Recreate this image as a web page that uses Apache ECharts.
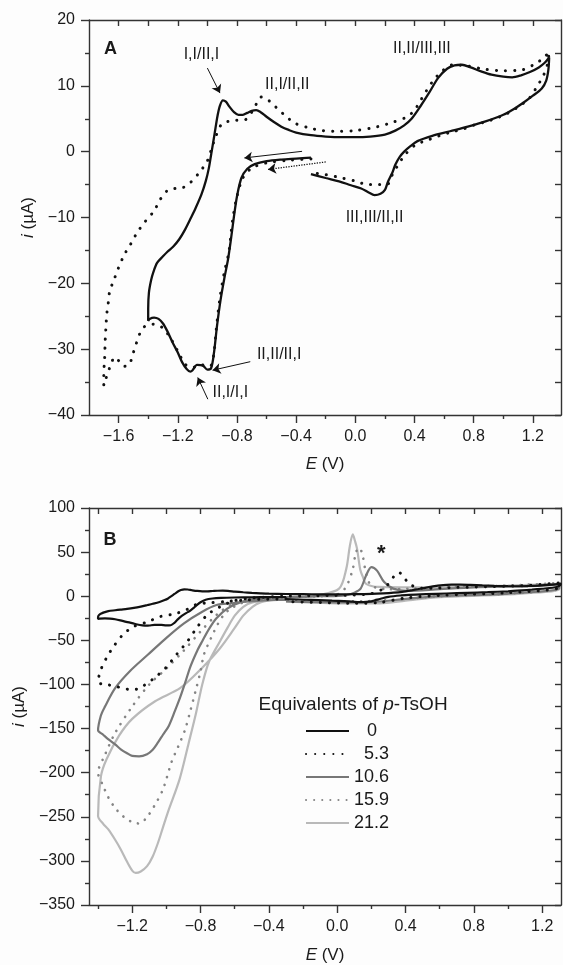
<!DOCTYPE html>
<html><head><meta charset="utf-8">
<script src="https://cdn.jsdelivr.net/npm/echarts@6/dist/echarts.min.js"></script>
<style>html,body{margin:0;padding:0;background:#fdfdfd}#c{width:563px;height:965px}</style>
</head><body><div id="c"></div>
<script>
// ---------- Panel A : 0 equivalents (solid) ----------
const aSolidE = [-0.30,-0.40,-0.50,-0.60,-0.68,-0.73,-0.77,-0.80,-0.82,-0.84,-0.86,-0.885,-0.91,-0.935,-0.955,-0.975,-1.00,-1.03,-1.07,-1.10,-1.115,-1.14,-1.17,-1.20,-1.235,-1.27,-1.30,-1.33,-1.36,-1.39,-1.40,
 -1.40,-1.395,-1.38,-1.365,-1.34,-1.30,-1.27,-1.23,-1.19,-1.15,-1.11,-1.08,-1.04,-1.01,-0.99,-0.975,-0.96,-0.945,-0.93,-0.915,-0.895,-0.875,-0.85,-0.82,-0.79,-0.76,-0.73,-0.70,-0.67,-0.64,-0.60,-0.55,-0.50,-0.45,-0.40,-0.30,-0.20,-0.10,0.00,0.10,0.20,0.27,0.33,0.38,0.44,0.50,0.56,0.62,0.67,0.72,0.78,0.85,0.92,1.00,1.06,1.12,1.18,1.24,1.28,1.31,
 1.305,1.29,1.26,1.20,1.14,1.08,1.00,0.88,0.76,0.64,0.52,0.42,0.37,0.33,0.30,0.27,0.25,0.22,0.20,0.17,0.13,0.09,0.04,-0.03,-0.11,-0.20,-0.30];
const aSolidI = [-0.9,-1.05,-1.2,-1.45,-1.9,-2.6,-4.0,-6.8,-9.8,-13.2,-16.3,-19.2,-22.4,-26.5,-30.5,-32.9,-33.1,-32.5,-32.4,-33.2,-33.4,-33.0,-32.0,-30.5,-29.0,-27.3,-26.1,-25.4,-25.2,-25.4,-25.7,
 -23.9,-21.4,-19.5,-18.3,-16.9,-15.9,-15.2,-14.4,-13.3,-11.8,-10.0,-8.6,-6.5,-4.4,-2.5,-0.5,1.5,3.6,5.6,7.0,7.8,7.6,6.8,6.0,5.6,5.6,5.9,6.2,6.3,6.0,5.3,4.5,3.8,3.3,2.9,2.5,2.3,2.2,2.2,2.3,2.6,3.2,4.0,5.0,6.9,9.0,11.2,12.6,13.1,13.2,12.8,12.2,11.7,11.4,11.3,11.6,12.1,12.8,13.5,14.3,
 12.5,10.8,9.6,8.5,7.5,6.6,5.6,4.6,3.8,3.1,2.4,1.6,0.8,0.0,-0.8,-2.0,-3.2,-4.6,-5.8,-6.4,-6.6,-6.2,-5.6,-5.1,-4.5,-4.0,-3.4];
// ---------- Panel A : dotted ----------
const aDotE = [-0.30,-0.45,-0.60,-0.70,-0.76,-0.80,-0.83,-0.855,-0.885,-0.915,-0.94,-0.955,-0.975,-1.00,-1.05,-1.10,-1.15,-1.20,-1.25,-1.30,-1.36,-1.42,-1.454,-1.50,-1.527,-1.56,-1.59,-1.624,-1.66,-1.70,
 -1.70,-1.695,-1.69,-1.685,-1.68,-1.67,-1.66,-1.63,-1.60,-1.56,-1.52,-1.475,-1.42,-1.36,-1.32,-1.27,-1.22,-1.17,-1.113,-1.052,-1.00,-0.967,-0.943,-0.906,-0.86,-0.82,-0.75,-0.70,-0.66,-0.635,-0.60,-0.566,-0.52,-0.48,-0.41,-0.31,-0.22,-0.14,0.00,0.15,0.25,0.35,0.40,0.444,0.52,0.59,0.66,0.76,0.88,1.00,1.12,1.22,1.28,1.31,
 1.30,1.27,1.236,1.175,1.10,1.03,0.956,0.883,0.81,0.737,0.652,0.566,0.494,0.408,0.336,0.287,0.25,0.214,0.153,0.08,0.007,-0.09,-0.20,-0.30];
const aDotI = [-1.1,-1.3,-1.7,-2.5,-4.0,-6.8,-10.5,-15.3,-18.3,-22.2,-27.0,-30.5,-32.5,-32.6,-32.3,-32.8,-32.3,-30.3,-28.3,-26.8,-26.2,-26.5,-27.5,-30.5,-32.3,-32.6,-32.0,-31.2,-32.8,-35.5,
 -33.5,-31.8,-28.5,-26.5,-24.7,-23.0,-21.2,-19.4,-17.6,-15.6,-14.1,-12.3,-10.6,-9.0,-7.3,-5.9,-5.6,-5.5,-4.65,-3.1,-1.4,0.8,2.3,4.1,4.6,4.75,4.8,6.0,7.6,8.3,8.0,7.4,6.4,5.6,4.35,3.6,3.2,3.1,3.2,3.8,4.45,5.3,6.3,7.9,10.6,12.3,13.2,13.0,12.5,12.3,12.4,13.4,14.4,15.2,
 13.4,11.5,10.2,8.1,6.8,5.85,5.1,4.55,4.1,3.5,3.0,2.4,1.8,1.05,-0.45,-2.1,-3.5,-5.0,-5.0,-5.0,-4.5,-4.0,-3.5,-3.2];

// ---------- Panel B ----------
const eqNames = ['0','5.3','10.6','15.9','21.2'];
const b53E = [-0.30,-0.45,-0.55,-0.65,-0.75,-0.82,-0.88,-0.95,-1.035,-1.109,-1.193,-1.256,-1.309,-1.351,-1.383,-1.40,
 -1.37,-1.341,-1.30,-1.25,-1.20,-1.16,-1.13,-1.066,-1.003,-0.94,-0.876,-0.823,-0.76,-0.686,-0.60,-0.50,-0.30,0.00,0.20,0.28,0.33,0.36,0.39,0.42,0.50,0.70,0.90,1.10,1.30,
 1.30,1.00,0.60,0.40,0.25,0.10,-0.10,-0.30];
const b53I = [-3,-3.5,-4.5,-6,-7.5,-9,-15,-20,-23,-29,-34.5,-43.9,-57,-70,-83,-97,
 -100,-100.5,-102,-104.5,-106,-104.5,-101,-92,-81,-66,-51,-36,-21,-12,-5,-2,0,1,3,10,22,27,22,14,9,10,11,12,15,
 10,4,1,-2,-7,-8,-7,-6];
const b106E = [-0.30,-0.45,-0.55,-0.62,-0.707,-0.79,-0.897,-1.003,-1.109,-1.214,-1.299,-1.362,-1.383,-1.40,
 -1.37,-1.341,-1.30,-1.267,-1.23,-1.20,-1.16,-1.113,-1.08,-1.05,-1.02,-0.986,-0.95,-0.92,-0.89,-0.86,-0.82,-0.79,-0.75,-0.707,-0.644,-0.56,-0.454,-0.30,-0.10,0.05,0.10,0.137,0.169,0.20,0.233,0.275,0.328,0.412,0.60,0.80,1.00,1.20,1.30,
 1.30,1.00,0.60,0.40,0.25,0.00,-0.30];
const b106I = [-4,-5,-6.5,-8,-10,-17.6,-30.8,-47.7,-66.4,-85,-104,-126,-135,-152,
 -157,-162,-168,-173.5,-178,-181,-181.5,-179,-174,-166,-157,-147,-130,-115,-98,-80,-62,-51,-37,-25,-14,-6.4,-2.6,-1,0,1,4,8.6,23.6,33,29,16,8.6,6,8,10,11,12,14,
 9,3,0,-3,-6,-7,-6];
const b159E = [-0.30,-0.45,-0.55,-0.622,-0.70,-0.80,-0.90,-1.00,-1.10,-1.20,-1.30,-1.36,-1.40,
 -1.37,-1.34,-1.30,-1.25,-1.20,-1.16,-1.12,-1.07,-1.02,-0.97,-0.93,-0.89,-0.86,-0.83,-0.80,-0.78,-0.74,-0.70,-0.66,-0.622,-0.55,-0.45,-0.30,-0.10,0.00,0.05,0.09,0.11,0.13,0.15,0.17,0.20,0.30,0.50,0.80,1.00,1.30,
 1.30,1.00,0.60,0.40,0.25,0.00,-0.30];
const b159I = [-3,-4,-6,-10,-20,-40,-62,-82,-100,-125,-155,-180,-200,
 -215,-228,-240,-250,-256,-257.6,-252,-237.5,-219,-188,-170,-151,-130,-108,-85,-66,-48,-32,-20,-14,-7,-4,-1.5,0,2,10,30,50,55,45,25,12,8,9,11,12,15,
 9,3,0,-3,-5,-6,-5];
const b212E = [-0.30,-0.39,-0.45,-0.496,-0.55,-0.60,-0.686,-0.79,-0.918,-1.066,-1.20,-1.277,-1.351,-1.383,-1.40,
 -1.37,-1.341,-1.30,-1.267,-1.23,-1.20,-1.18,-1.15,-1.113,-1.08,-1.05,-1.02,-0.986,-0.923,-0.869,-0.826,-0.79,-0.75,-0.686,-0.64,-0.60,-0.55,-0.496,-0.39,-0.20,-0.116,0.011,0.053,0.074,0.091,0.105,0.116,0.135,0.15,0.169,0.243,0.50,0.80,1.00,1.30,
 1.30,1.00,0.60,0.40,0.25,0.00,-0.30];
const b212I = [-2,-4.5,-7,-12,-22,-36,-59,-81,-104,-119,-139,-158,-185,-204,-249,
 -258,-264,-276,-287,-301,-311,-313.6,-312,-306,-295,-280,-262,-242,-207.6,-166,-132,-100,-74,-51,-35,-22,-12,-7,-4.5,-1,1,8.6,31,57,70,62,54,30,22,14,10.5,10,11,12,14,
 8,2,-1,-5,-8,-8,-6];

// ---------- Axes ticks ----------
const aXMajor = [-1.6,-1.2,-0.8,-0.4,0,0.4,0.8,1.2];
const aXMinor = [-1.4,-1.0,-0.6,-0.2,0.2,0.6,1.0];
const aYMajor = [-40,-30,-20,-10,0,10,20];
const aYMinor = [-35,-25,-15,-5,5,15];
const bXMajor = [-1.2,-0.8,-0.4,0,0.4,0.8,1.2];
const bXMinor = [-1.4,-1.0,-0.6,-0.2,0.2,0.6,1.0];
const bYMajor = [-350,-300,-250,-200,-150,-100,-50,0,50,100];
const bYMinor = [-325,-275,-225,-175,-125,-75,-25,25,75];

const FONT = '"Liberation Sans", Arial, Helvetica, sans-serif';
const NARROW = '"Liberation Sans Narrow", "Liberation Sans", Arial, sans-serif';
const AX = '#333';
const zip = (e, i) => e.map((v, k) => [v, i[k]]);
const minus = s => String(s).replace('-', '\u2212');
const fmtX = v => minus((Math.abs(v) < 1e-9 ? 0 : v).toFixed(1));
const fmtY = v => minus(Math.round(v));

function axisSet(dim, grid, min, max, major, minor, fmt, name, nameGap) {
  const isX = dim === 'x';
  const p1 = isX ? 'bottom' : 'left', p2 = isX ? 'top' : 'right';
  const all = major.concat(minor).sort((a, b) => a - b);
  const line = { color: AX, width: 1.4 };
  const base = { type: 'value', gridIndex: grid, min, max, splitLine: { show: false } };
  return [
    Object.assign({}, base, {
      position: p1,
      axisLine: { show: true, onZero: false, lineStyle: line },
      axisTick: { show: true, customValues: major, length: 8, lineStyle: line },
      axisLabel: { show: true, customValues: major, formatter: fmt, fontSize: 16, color: '#1a1a1a', fontFamily: FONT, margin: 14 },
      name: name, nameLocation: 'middle', nameGap: nameGap,
      nameTextStyle: { fontSize: 17, color: '#1a1a1a', fontFamily: FONT, rich: { it: { fontStyle: 'italic', fontSize: 17, fontFamily: FONT, color: '#1a1a1a' } } }
    }),
    Object.assign({}, base, {
      position: p1,
      axisLine: { show: false, onZero: false },
      axisTick: { show: true, customValues: minor, length: 4, lineStyle: line },
      axisLabel: { show: false }
    }),
    Object.assign({}, base, {
      position: p2,
      axisLine: { show: true, onZero: false, lineStyle: line },
      axisTick: { show: true, inside: true, customValues: all, length: 6, lineStyle: line },
      axisLabel: { show: false }
    })
  ];
}

const xAxes = axisSet('x', 0, -1.8, 1.39, aXMajor, aXMinor, fmtX, '{it|E} (V)', 41)
  .concat(axisSet('x', 1, -1.453, 1.31, bXMajor, bXMinor, fmtX, '{it|E} (V)', 42));
const yAxes = axisSet('y', 0, -40, 20, aYMajor, aYMinor, fmtY, '{it|i} (\u00b5A)', 52)
  .concat(axisSet('y', 1, -350, 100, bYMajor, bYMinor, fmtY, '{it|i} (\u00b5A)', 52));

const dotBlack = { color: '#111', width: 3, type: [0.1, 9], cap: 'round' };
const dotGrey = { color: '#858585', width: 2.6, type: [0.1, 8], cap: 'round' };

function ser(name, xi, data, lineStyle, extra) {
  return Object.assign({
    name, type: 'line', xAxisIndex: xi, yAxisIndex: xi, data, smooth: 0.3,
    symbol: 'none', showSymbol: false, lineStyle, itemStyle: { color: lineStyle.color }, z: 3
  }, extra || {});
}

const arrowLine = { color: '#111', width: 1, type: 'solid' };
const series = [
  ser('A5', 0, zip(aDotE, aDotI), dotBlack),
  ser('A0', 0, zip(aSolidE, aSolidI), { color: '#111', width: 2.3 }, {
    markLine: {
      silent: true, symbol: ['none', 'arrow'], symbolSize: 8, animation: false,
      label: { show: false }, lineStyle: arrowLine,
      data: [
        [{ coord: [-1.0, 12.7] }, { coord: [-0.915, 8.9] }],
        [{ coord: [-0.36, 0.05] }, { coord: [-0.75, -0.95] }],
        [{ coord: [-0.2, -1.56], lineStyle: { type: 'dotted', width: 1.3 } }, { coord: [-0.59, -2.7] }],
        [{ coord: [-0.71, -31.9] }, { coord: [-0.965, -33.2] }],
        [{ coord: [-0.997, -37.6] }, { coord: [-1.065, -34.3] }]
      ]
    }
  }),
  ser('21.2', 3, zip(b212E, b212I), { color: '#b9b9b9', width: 2.2 }),
  ser('15.9', 3, zip(b159E, b159I), dotGrey),
  ser('10.6', 3, zip(b106E, b106I), { color: '#777', width: 2.2 }),
  ser('5.3', 3, zip(b53E, b53I), dotBlack),
  ser('0', 3, zip(aSolidE, aSolidI), { color: '#111', width: 2.2 })
];

const chart = echarts.init(document.getElementById('c'), null, { renderer: 'canvas', width: 563, height: 965 });
const legTxt = { fontSize: 18, fontFamily: FONT, color: '#1a1a1a', align: 'right' };
chart.setOption({
  animation: false,
  backgroundColor: '#fdfdfd',
  textStyle: { fontFamily: FONT },
  grid: [
    { left: 89, top: 20, right: 2, bottom: 550, containLabel: false },
    { left: 89, top: 508, right: 2, bottom: 57, containLabel: false }
  ],
  xAxis: xAxes,
  yAxis: yAxes,
  legend: {
    data: eqNames, orient: 'vertical', left: 305, top: 722, padding: 0,
    itemWidth: 43, itemHeight: 14, itemGap: 5,
    itemStyle: { opacity: 0 },
    formatter: n => (n === '0' ? '{z|0}' : '{n|' + n + '}'),
    textStyle: { fontSize: 18, color: '#1a1a1a', fontFamily: FONT,
      rich: { n: Object.assign({ width: 35 }, legTxt), z: Object.assign({ width: 23 }, legTxt) } }
  },
  series
});

// annotation texts placed in data coordinates
const aNotes = [
  { t: 'A', e: -1.655, i: 15.6, bold: true },
  { t: 'I,I/II,I', e: -1.04, i: 14.8 },
  { t: 'II,I/II,II', e: -0.46, i: 10.2 },
  { t: 'II,II/III,III', e: 0.45, i: 15.6 },
  { t: 'III,III/II,II', e: 0.13, i: -10.0 },
  { t: 'II,II/II,I', e: -0.515, i: -30.9 },
  { t: 'II,I/I,I', e: -0.845, i: -36.6 }
];
const bNotes = [
  { t: 'B', e: -1.33, i: 64, bold: true },
  { t: '*', e: 0.258, i: 48, star: true },
  { t: 'Equivalents of {it|p}-TsOH', e: 0.093, i: -123, legendTitle: true }
];
const g = [];
aNotes.forEach(n => {
  const p = chart.convertToPixel({ xAxisIndex: 0, yAxisIndex: 0 }, [n.e, n.i]);
  g.push({ type: 'text', x: p[0], y: p[1], z: 10, style: {
    text: n.t, align: 'center', verticalAlign: 'middle', fill: '#1a1a1a',
    fontSize: n.bold ? 18 : 16, fontWeight: n.bold ? 'bold' : 'normal',
    fontFamily: n.bold ? FONT : NARROW } });
});
bNotes.forEach(n => {
  const p = chart.convertToPixel({ xAxisIndex: 3, yAxisIndex: 3 }, [n.e, n.i]);
  g.push({ type: 'text', x: p[0], y: p[1], z: 10, style: {
    text: n.t, align: 'center', verticalAlign: 'middle', fill: '#1a1a1a',
    fontSize: n.star ? 22 : (n.bold ? 18 : 19), fontWeight: (n.bold || n.star) ? 'bold' : 'normal',
    fontFamily: FONT,
    rich: { it: { fontStyle: 'italic', fontSize: 19, fontFamily: FONT, fill: '#1a1a1a' } } } });
});
chart.setOption({ graphic: g });
</script></body></html>
